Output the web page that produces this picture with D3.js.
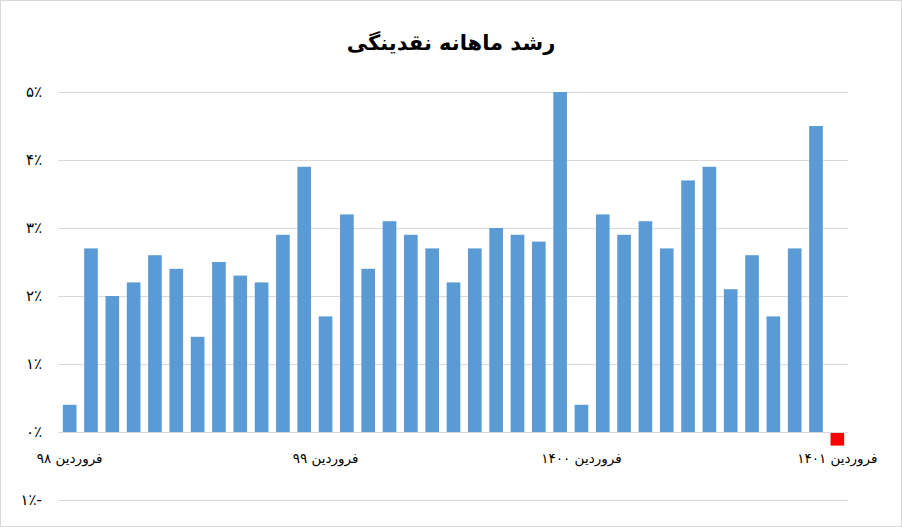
<!DOCTYPE html>
<html><head><meta charset="utf-8">
<script src="https://cdn.jsdelivr.net/npm/d3@7"></script>
<style>
html,body{margin:0;padding:0;background:#fff;}
svg{display:block;font-family:"DejaVu Sans",sans-serif;}
</style></head>
<body><svg id="c" width="902" height="527"></svg>
<script>
const title = "رشد ماهانه نقدینگی";
const months = ["فروردین","اردیبهشت","خرداد","تیر","مرداد","شهریور","مهر","آبان","آذر","دی","بهمن","اسفند"];
const years = ["۹۸","۹۹","۱۴۰۰","۱۴۰۱"];
const categories = [];
years.forEach((y,yi)=>{ months.forEach((m,mi)=>{ if(yi<3 || mi===0) categories.push(m+" "+y); }); });
const values = [0.4,2.7,2.0,2.2,2.6,2.4,1.4,2.5,2.3,2.2,2.9,3.9,
                1.7,3.2,2.4,3.1,2.9,2.7,2.2,2.7,3.0,2.9,2.8,5.0,
                0.4,3.2,2.9,3.1,2.7,3.7,3.9,2.1,2.6,1.7,2.7,4.5,
                -0.2];
const yTicks = [-1,0,1,2,3,4,5];
const tickLabels = categories.filter(c=>c.startsWith("فروردین"));

const fa = n => String(n).replace(/\d/g, d => "۰۱۲۳۴۵۶۷۸۹"[d]);
const pct = v => fa(Math.abs(v)) + "٪" + (v<0 ? "-" : "");

const svg = d3.select("#c");
svg.append("rect").attr("x",0.5).attr("y",0.5).attr("width",901).attr("height",526)
  .attr("fill","#fff").attr("stroke","#d9d9d9");

const x = d3.scaleBand().domain(categories).range([59,848]).paddingInner(0.36).paddingOuter(0.18);
const y = d3.scaleLinear().domain([-1,5]).range([500,92]);

svg.append("text").attr("x",451).attr("y",50).attr("text-anchor","middle")
  .attr("font-size",21).attr("font-weight","bold").attr("fill","#000").text(title);

// gridlines
svg.append("g").selectAll("line").data(yTicks).join("line")
  .attr("x1",58).attr("x2",848)
  .attr("y1",d=>Math.round(y(d))+0.5).attr("y2",d=>Math.round(y(d))+0.5)
  .attr("stroke","#d9d9d9").attr("stroke-width",1);

// y labels
svg.append("g").selectAll("text").data(yTicks).join("text")
  .attr("x",42).attr("y",d=>y(d)).attr("dy","0.35em")
  .attr("text-anchor","end").attr("font-size",15).attr("fill","#000")
  .text(pct);

// bars
svg.append("g").selectAll("rect").data(values).join("rect")
  .attr("x",(d,i)=>x(categories[i]))
  .attr("width",x.bandwidth())
  .attr("y",d=>y(Math.max(0,d)))
  .attr("height",d=>Math.abs(y(d)-y(0)))
  .attr("fill",d=>d<0?"#ff0000":"#5b9bd5");

// x axis
const xAxis = d3.axisBottom(x).tickValues(tickLabels).tickSize(0).tickPadding(0);
const gx = svg.append("g").attr("transform",`translate(0,${y(0)})`).call(xAxis);
gx.select(".domain").remove();
gx.selectAll("text").attr("font-size",13.5).attr("fill","#000")
  .attr("font-family","DejaVu Sans").attr("y",31).attr("dy",0);
svg.append("line").attr("x1",58).attr("x2",848)
  .attr("y1",Math.round(y(0))+0.5).attr("y2",Math.round(y(0))+0.5)
  .attr("stroke","#d9d9d9");
</script></body></html>
